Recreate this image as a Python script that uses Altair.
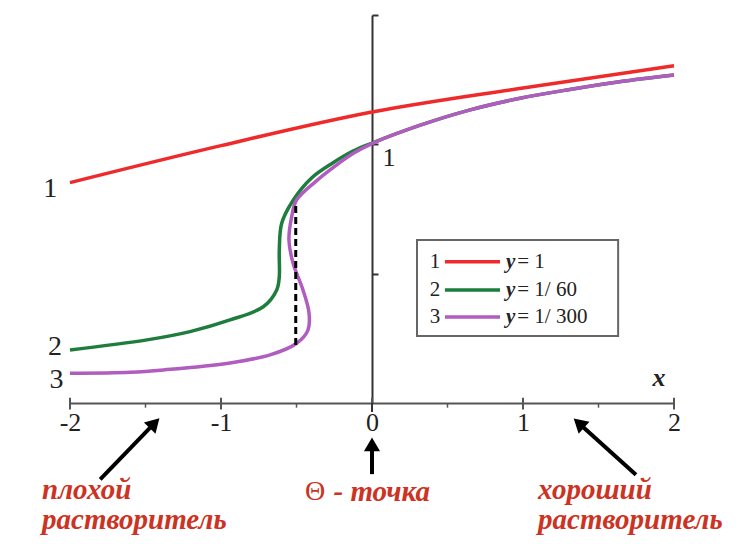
import altair as alt
import pandas as pd
import math

# ---- data ----
red_x = [-2.0, -1.0, 0.0, 1.0, 2.0]
red_y = [0.852, 0.995, 1.125, 1.218, 1.304]

green_x = [-2.0, -1.49, -1.205, -0.94, -0.72, -0.631, -0.614, -0.614, -0.598, -0.521,
           -0.40, -0.26, -0.126, 0.0, 0.32, 0.65, 0.98, 1.31, 1.64, 2.0]
green_y = [0.205, 0.244, 0.276, 0.321, 0.372, 0.437, 0.488, 0.591, 0.695, 0.785,
           0.870, 0.928, 0.974, 1.005, 1.074, 1.133, 1.178, 1.212, 1.242, 1.268]

purple_x = [-2.0, -1.6, -1.38, -0.94, -0.675, -0.499, -0.424, -0.417, -0.457, -0.523,
            -0.550, -0.532, -0.499, -0.37, -0.24, -0.115, 0.0, 0.32, 0.65, 0.98, 1.31, 1.64, 2.0]
purple_y = [0.115, 0.119, 0.128, 0.155, 0.186, 0.231, 0.282, 0.348, 0.437, 0.541,
            0.630, 0.720, 0.785, 0.858, 0.918, 0.968, 1.003, 1.074, 1.133, 1.178, 1.212, 1.242, 1.268]

series = ["1", "2", "3"]
colors = ["#ee2a2a", "#1e7d3c", "#b15cbf"]
legend_text = ["= 1", "= 1/ 60", "= 1/ 300"]

dash_x = [-0.505, -0.505]
dash_y = [0.224, 0.773]

x_ticks = [-2, -1, 0, 1, 2]
x_minor = [-1.5, -0.5, 0.5, 1.5]
y_ticks = [0.5, 1.0, 1.5]

FONT = "Liberation Serif, Times New Roman, serif"
RED_TXT = "#cc3322"


def frame(s, xs_, ys_):
    return pd.DataFrame({"s": s, "x": xs_, "y": ys_, "o": list(range(len(xs_)))})


red_df = frame("1", red_x, red_y)
sc_df = pd.concat([frame("2", green_x, green_y), frame("3", purple_x, purple_y)])

xs = alt.Scale(domain=[-2, 2], nice=False, zero=False)
ys = alt.Scale(domain=[0, 1.5], nice=False, zero=False)
cscale = alt.Scale(domain=series, range=colors)

base_x = alt.X("x:Q", scale=xs, axis=alt.Axis(
    values=x_ticks, labelExpr="'' + datum.value", ticks=False, grid=False,
    domainColor="#555", domainWidth=2, labelFont=FONT, labelFontSize=26,
    labelColor="#222", labelPadding=6, title=None, labelFlush=False))
base_y = alt.Y("y:Q", scale=ys, axis=alt.Axis(
    orient="right", offset=-302, values=y_ticks,
    labelExpr="datum.value == 1 ? '1' : ''", grid=False, domainColor="#333",
    domainWidth=2, tickColor="#333", tickWidth=2, tickSize=6, labelFont=FONT,
    labelFontSize=26, labelColor="#222", labelBaseline="top", labelPadding=4,
    labelFlush=False, title=None))

red_line = alt.Chart(red_df).mark_line(strokeWidth=3.5, interpolate="monotone").encode(
    x=base_x, y=base_y,
    color=alt.Color("s:N", scale=cscale, legend=None),
    order="o:Q")
s_lines = alt.Chart(sc_df).mark_line(strokeWidth=3.5, interpolate="catmull-rom").encode(
    x=alt.X("x:Q", scale=xs), y=alt.Y("y:Q", scale=ys),
    color=alt.Color("s:N", scale=cscale, legend=None),
    order="o:Q", detail="s:N")

# ticks on the x axis
maj = pd.DataFrame({"x": x_ticks, "y": [-0.025] * 5, "y2": [0.02] * 5})
mino = pd.DataFrame({"x": x_minor, "y": [-0.018] * 4, "y2": [0.0] * 4})
maj_r = alt.Chart(maj).mark_rule(color="#555", strokeWidth=2).encode(
    x=alt.X("x:Q", scale=xs), y=alt.Y("y:Q", scale=ys), y2="y2:Q")
min_r = alt.Chart(mino).mark_rule(color="#555", strokeWidth=1.5).encode(
    x=alt.X("x:Q", scale=xs), y=alt.Y("y:Q", scale=ys), y2="y2:Q")
vext = alt.Chart(pd.DataFrame({"x": [0], "y": [-0.035], "y2": [0]})).mark_rule(
    color="#333", strokeWidth=2).encode(
    x=alt.X("x:Q", scale=xs), y=alt.Y("y:Q", scale=ys), y2="y2:Q")

dash = alt.Chart(pd.DataFrame({"x": dash_x, "y": dash_y})).mark_line(
    color="black", strokeWidth=3, strokeDash=[7, 4]).encode(
    x=alt.X("x:Q", scale=xs), y=alt.Y("y:Q", scale=ys))

# curve numbers
num = pd.DataFrame({"t": series, "x": [-2.13, -2.10, -2.09], "y": [0.826, 0.215, 0.088]})
num_t = alt.Chart(num).mark_text(font=FONT, fontSize=28, color="#222").encode(
    x=alt.X("x:Q", scale=xs), y=alt.Y("y:Q", scale=ys), text="t:N")

xlab = alt.Chart(pd.DataFrame({"x": [1.90], "y": [0.097], "t": ["x"]})).mark_text(
    font=FONT, fontSize=26, fontWeight="bold", fontStyle="italic", color="#222").encode(
    x=alt.X("x:Q", scale=xs), y=alt.Y("y:Q", scale=ys), text="t:N")

# legend box
box = alt.Chart(pd.DataFrame({"x": [0.298], "x2": [1.63], "y": [0.259], "y2": [0.630]})).mark_rect(
    fill="white", stroke="#666", strokeWidth=2).encode(
    x=alt.X("x:Q", scale=xs), x2="x2:Q", y=alt.Y("y:Q", scale=ys), y2="y2:Q")
leg_y = [0.546, 0.437, 0.332]
leg = pd.DataFrame({"s": series, "y": leg_y, "t": legend_text,
                    "xn": [0.417] * 3, "xa": [0.483] * 3, "xb": [0.848] * 3,
                    "xy": [0.887] * 3, "xe": [0.962] * 3, "yy": ["y"] * 3})
leg_lines = alt.Chart(leg).mark_rule(strokeWidth=3.5).encode(
    x=alt.X("xa:Q", scale=xs), x2="xb:Q", y=alt.Y("y:Q", scale=ys),
    color=alt.Color("s:N", scale=cscale, legend=None))
leg_num = alt.Chart(leg).mark_text(font=FONT, fontSize=21, color="#222").encode(
    x=alt.X("xn:Q", scale=xs), y=alt.Y("y:Q", scale=ys), text="s:N")
leg_y_t = alt.Chart(leg).mark_text(font=FONT, fontSize=21, fontWeight="bold",
                                   fontStyle="italic", align="left", color="#222").encode(
    x=alt.X("xy:Q", scale=xs), y=alt.Y("y:Q", scale=ys), text="yy:N")
leg_txt = alt.Chart(leg).mark_text(font=FONT, fontSize=21, align="left", color="#222").encode(
    x=alt.X("xe:Q", scale=xs), y=alt.Y("y:Q", scale=ys), text="t:N")

# arrows
arr = pd.DataFrame({"x": [-1.80, 0.0, 1.748], "y": [-0.295, -0.275, -0.277],
                    "x2": [-1.44, 0.0, 1.37], "y2": [-0.078, -0.160, -0.078]})
arr["ang"] = [math.degrees(math.atan2((b - a) * 151, (d - c) * 258.7))
              for a, b, c, d in zip(arr.x, arr.x2, arr.y, arr.y2)]
arr_l = alt.Chart(arr).mark_rule(color="black", strokeWidth=4).encode(
    x=alt.X("x:Q", scale=xs), x2="x2:Q", y=alt.Y("y:Q", scale=ys), y2="y2:Q")
arr_h = alt.Chart(arr).mark_point(shape="triangle-up", filled=True, color="black",
                                  size=260, opacity=1).encode(
    x=alt.X("x2:Q", scale=xs), y=alt.Y("y2:Q", scale=ys),
    angle=alt.Angle("ang:Q", scale=None))

# annotations
ann = pd.DataFrame({
    "t": ["плохой", "растворитель", "- точка", "хороший", "растворитель"],
    "x": [-2.185, -2.185, -0.255, 1.10, 1.10],
    "y": [-0.337, -0.451, -0.345, -0.337, -0.451]})
ann_t = alt.Chart(ann).mark_text(font=FONT, fontSize=29, fontWeight="bold",
                                 fontStyle="italic", align="left", color=RED_TXT).encode(
    x=alt.X("x:Q", scale=xs), y=alt.Y("y:Q", scale=ys), text="t:N")
theta = alt.Chart(pd.DataFrame({"x": [-0.444], "y": [-0.345], "t": ["Θ"]})).mark_text(
    font=FONT, fontSize=28, align="left", color=RED_TXT).encode(
    x=alt.X("x:Q", scale=xs), y=alt.Y("y:Q", scale=ys), text="t:N")

chart = alt.layer(
    maj_r, min_r, vext, red_line, s_lines, dash, num_t, xlab, box, leg_lines, leg_num,
    leg_y_t, leg_txt, arr_l, arr_h, ann_t, theta
).properties(
    width=604, height=388,
    autosize=alt.AutoSizeParams(type="none"),
    padding={"left": 62, "top": 7, "right": 70, "bottom": 133},
    background="white"
).configure_view(stroke=None)

chart.save("out.html", embed_options={"renderer": "svg", "actions": False})
